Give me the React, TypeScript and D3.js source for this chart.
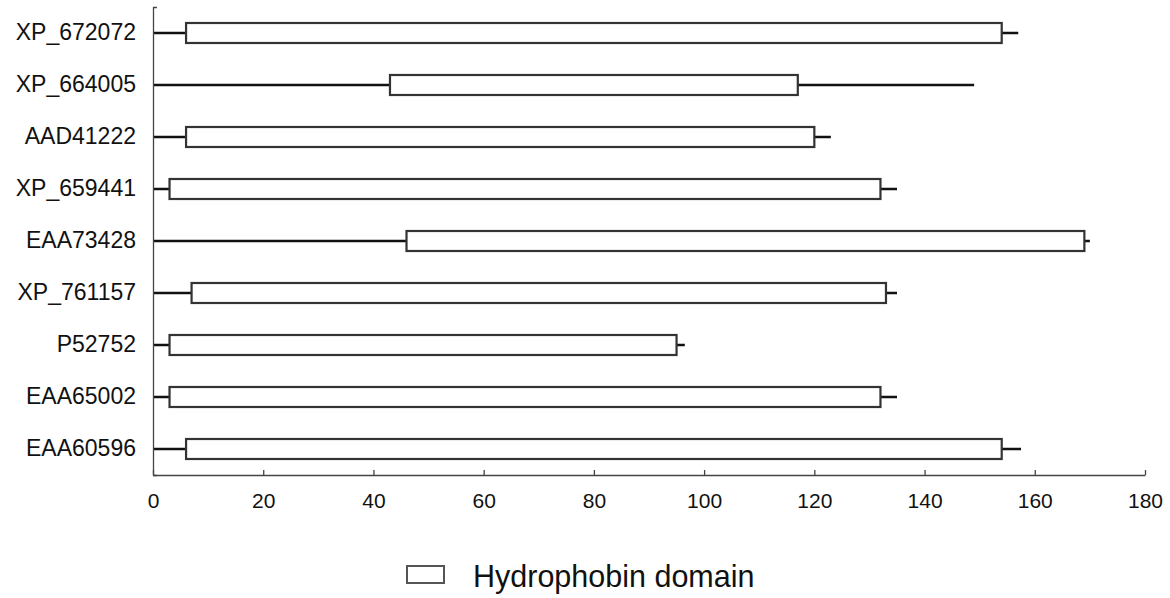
import React, { useEffect, useRef } from "react";
import * as d3 from "d3";

const proteins = ["XP_672072", "XP_664005", "AAD41222", "XP_659441", "EAA73428", "XP_761157", "P52752", "EAA65002", "EAA60596"];
const proteinLength = [157, 149, 123, 135, 170, 135, 96.5, 135, 157.5];
const domainStart = [6, 43, 6, 3, 46, 7, 3, 3, 6];
const domainEnd = [154, 117, 120, 132, 169, 133, 95, 132, 154];
const xTicks = [0, 20, 40, 60, 80, 100, 120, 140, 160, 180];
const legendLabel = "Hydrophobin domain";

const W = 1170;
const H = 598;

export default function App() {
  const ref = useRef<SVGSVGElement>(null);

  useEffect(() => {
    const svg = d3.select(ref.current);
    svg.selectAll("*").remove();
    const x = d3.scaleLinear().domain([0, 180]).range([153, 1145]);
    const y = d3.scaleBand<string>().domain(proteins).range([7, 475]).padding(0);
    const barH = 20;
    const rows = proteins.map((p, i) => ({ p, len: proteinLength[i], s: domainStart[i], e: domainEnd[i] }));

    // protein lines
    svg.append("g").selectAll("line").data(rows).join("line")
      .attr("x1", x(0)).attr("x2", (d) => x(d.len))
      .attr("y1", (d) => (y(d.p) as number) + y.bandwidth() / 2)
      .attr("y2", (d) => (y(d.p) as number) + y.bandwidth() / 2)
      .attr("stroke", "#111").attr("stroke-width", 2.6);

    // domains
    svg.append("g").selectAll("rect").data(rows).join("rect")
      .attr("x", (d) => x(d.s))
      .attr("width", (d) => x(d.e) - x(d.s))
      .attr("y", (d) => (y(d.p) as number) + y.bandwidth() / 2 - barH / 2)
      .attr("height", barH)
      .attr("fill", "#fff").attr("stroke", "#333").attr("stroke-width", 2.2);

    // x axis
    const gx = svg.append("g").attr("transform", "translate(0,475)")
      .call(d3.axisBottom(x).tickValues(xTicks).tickSize(-5).tickSizeOuter(0).tickPadding(18));
    gx.selectAll("path,line").attr("stroke", "#444").attr("stroke-width", 1.3);
    gx.selectAll("text").attr("font-family", "'Liberation Sans', Arial, sans-serif").attr("font-size", 21).attr("fill", "#111");

    // y axis
    const gy = svg.append("g").attr("transform", "translate(153,0)")
      .call(d3.axisLeft(y).tickSize(0).tickSizeOuter(-4).tickPadding(17));
    gy.selectAll("path").attr("stroke", "#444").attr("stroke-width", 1.3).attr("fill", "none");
    gy.selectAll("text").attr("font-family", "'Liberation Sans', Arial, sans-serif").attr("font-size", 23).attr("fill", "#111");

    // legend
    const lg = svg.append("g");
    lg.append("rect").attr("x", 407).attr("y", 566).attr("width", 37).attr("height", 17)
      .attr("fill", "#fff").attr("stroke", "#555").attr("stroke-width", 2);
    lg.append("text").attr("x", 473).attr("y", 587).text(legendLabel)
      .attr("font-family", "'Liberation Sans', Arial, sans-serif").attr("font-size", 30.5).attr("fill", "#111");
  }, []);

  return (
    <svg ref={ref} width={W} height={H} style={{ position: "absolute", left: 0, top: 0, background: "#fff" }} />
  );
}
